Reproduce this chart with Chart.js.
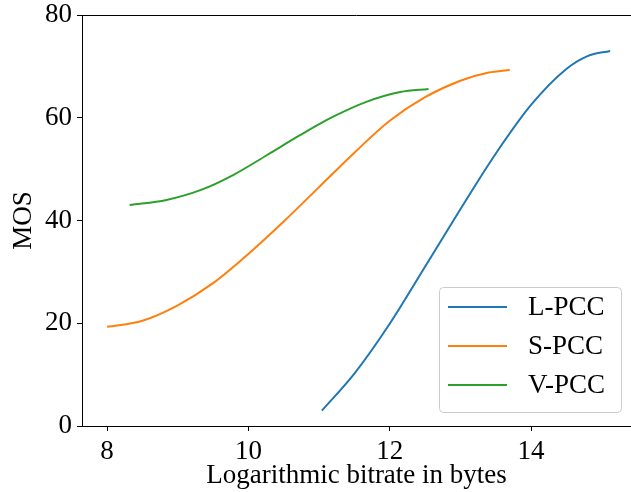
<!DOCTYPE html>
<html>
<head>
<meta charset="utf-8">
<script src="https://cdn.jsdelivr.net/npm/chart.js@4/dist/chart.umd.min.js"></script>
<style>
  html, body { margin: 0; padding: 0; background: #fff; overflow: hidden; }
  #wrap { width: 631px; height: 492px; }
</style>
</head>
<body>
<div id="wrap"><canvas id="mos-chart" width="631" height="492"></canvas></div>
<script>
// curves (x = log bitrate, y = MOS)
const lpccX = [11.04, 11.5, 12.0, 12.5, 13.0, 13.5, 14.0, 14.5, 14.8, 15.12];
const lpccY = [3.0, 10.2, 19.9, 31.0, 42.2, 53.0, 62.5, 69.5, 72.0, 73.0];
const spccX = [8.0, 8.5, 9.0, 9.5, 10.0, 10.5, 11.0, 11.5, 12.0, 12.5, 13.0, 13.4, 13.7];
const spccY = [19.3, 20.5, 23.5, 27.8, 33.5, 39.8, 46.5, 53.2, 59.4, 64.0, 67.2, 68.8, 69.3];
const vpccX = [8.32, 8.84, 9.32, 9.79, 10.26, 10.73, 11.2, 11.67, 12.15, 12.55];
const vpccY = [43.0, 44.0, 45.9, 48.9, 52.7, 56.6, 60.2, 63.1, 65.0, 65.6];
const seriesNames = ['L-PCC', 'S-PCC', 'V-PCC'];
const xTicks = [8, 10, 12, 14];
const yTicks = [0, 20, 40, 60, 80];

const colors = ['#1f77b4', '#ff7f0e', '#2ca02c'];
const serif = "'Liberation Serif', 'Times New Roman', serif";

const toPts = (xs, ys) => xs.map((x, i) => ({ x, y: ys[i] }));

// matplotlib-like legend in the lower right corner, plus the top spine
const framePlugin = {
  id: 'frame',
  afterDraw(chart) {
    const c = chart.ctx;
    const a = chart.chartArea;
    c.save();
    c.strokeStyle = '#000';
    c.lineWidth = 1;
    c.beginPath();
    c.moveTo(a.left, a.top + 0.5);
    c.lineTo(a.right, a.top + 0.5);
    c.stroke();

    const bw = 182, bh = 125;
    const bx = a.right - 10 - bw, by = a.bottom - 14 - bh;
    c.fillStyle = 'rgba(255,255,255,0.8)';
    c.strokeStyle = '#cccccc';
    c.beginPath();
    c.roundRect(bx + 0.5, by + 0.5, bw, bh, 4);
    c.fill();
    c.stroke();

    c.font = '27px ' + serif;
    c.textBaseline = 'middle';
    c.textAlign = 'left';
    chart.data.datasets.forEach((ds, i) => {
      const ry = by + 20 + i * 39;
      c.strokeStyle = ds.borderColor;
      c.lineWidth = 2;
      c.beginPath();
      c.moveTo(bx + 9, ry);
      c.lineTo(bx + 68, ry);
      c.stroke();
      c.fillStyle = '#000';
      c.fillText(ds.label, bx + 89, ry + 1);
    });
    c.restore();
  }
};

const ctx = document.getElementById('mos-chart').getContext('2d');
new Chart(ctx, {
  type: 'line',
  data: {
    datasets: [
      { label: seriesNames[0], data: toPts(lpccX, lpccY), borderColor: colors[0] },
      { label: seriesNames[1], data: toPts(spccX, spccY), borderColor: colors[1] },
      { label: seriesNames[2], data: toPts(vpccX, vpccY), borderColor: colors[2] }
    ]
  },
  options: {
    responsive: false,
    animation: false,
    layout: { padding: { top: 15, right: 0, bottom: 0, left: 0 } },
    elements: {
      line: { borderWidth: 2, fill: false, cubicInterpolationMode: 'monotone' },
      point: { radius: 0, hoverRadius: 0 }
    },
    plugins: { legend: { display: false }, tooltip: { enabled: false } },
    scales: {
      x: {
        type: 'linear',
        min: 7.645,
        max: 15.415,
        afterBuildTicks: s => { s.ticks = xTicks.map(v => ({ value: v })); },
        afterFit: s => { s.height = 66; s.paddingLeft = 0; s.paddingRight = 0; },
        grid: { drawOnChartArea: false, drawTicks: true, tickLength: 5, color: '#000' },
        border: { display: true, color: '#000', width: 1 },
        ticks: { color: '#000', padding: 5, maxRotation: 0, font: { family: serif, size: 27 } },
        title: { display: true, text: 'Logarithmic bitrate in bytes', color: '#000',
                 padding: { top: 0, bottom: 0 }, font: { family: serif, size: 27 } }
      },
      y: {
        min: 0,
        max: 80,
        afterBuildTicks: s => { s.ticks = yTicks.map(v => ({ value: v })); },
        afterFit: s => { s.width = 82; s.paddingTop = 0; s.paddingBottom = 0; },
        grid: { drawOnChartArea: false, drawTicks: true, tickLength: 5, color: '#000' },
        border: { display: true, color: '#000', width: 1 },
        ticks: { color: '#000', padding: 5, font: { family: serif, size: 27 } },
        title: { display: true, text: 'MOS', color: '#000',
                 padding: { top: 8, bottom: 0 }, font: { family: serif, size: 27 } }
      }
    }
  },
  plugins: [framePlugin]
});
</script>
</body>
</html>
